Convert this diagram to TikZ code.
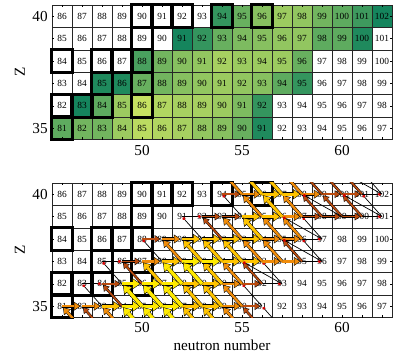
\documentclass[tikz,border=0pt]{standalone}
\usepackage{fontspec}
\setmainfont{Liberation Serif}
\usetikzlibrary{arrows.meta}
\definecolor{abulo}{RGB}{208,230,98}
\definecolor{abuhi}{RGB}{0,122,92}
\definecolor{fyel}{RGB}{255,234,0}
\definecolor{fyor}{RGB}{255,196,0}
\definecolor{forg}{RGB}{240,140,10}
\definecolor{fbrn}{RGB}{185,75,15}
\tikzset{
  cell/.style    = {draw=black!85, line width=0.35pt, minimum width=6mm, minimum height=6.72mm,
                    inner sep=0pt, font=\fontsize{8}{8}\selectfont},
  stable/.style  = {draw, line width=2.3pt},            % stable isotopes
  tick/.style    = {line width=0.4pt},
  ticklab/.style = {font=\fontsize{13}{13}\selectfont},
  % flow arrows, 1 = strongest
  back1/.style   = {black, line width=3.7pt, -{Triangle[length=7.2pt, width=9.8pt, line width=0pt]}, shorten >=1.2pt},
  front1/.style  = {fyel,  line width=2.9pt, -{Triangle[length=5.8pt, width=8pt, line width=0pt]}, shorten >=2pt},
  back2/.style   = {black, line width=3.3pt, -{Triangle[length=6.6pt, width=9pt, line width=0pt]}, shorten >=1.2pt},
  front2/.style  = {fyor,  line width=2.5pt, -{Triangle[length=5.2pt, width=7.2pt, line width=0pt]}, shorten >=2pt},
  back3/.style   = {black, line width=2.8pt, -{Triangle[length=5.8pt, width=7.8pt, line width=0pt]}, shorten >=1.2pt},
  front3/.style  = {forg,  line width=2.0pt, -{Triangle[length=4.6pt, width=6.2pt, line width=0pt]}, shorten >=2pt},
  back4/.style   = {black, line width=2.2pt, -{Triangle[length=5pt, width=6.6pt, line width=0pt]}, shorten >=1.2pt},
  front4/.style  = {fbrn,  line width=1.4pt, -{Triangle[length=3.9pt, width=5pt, line width=0pt]}, shorten >=2pt},
  back5/.style   = {draw=none},
  front5/.style  = {black, line width=0.6pt, -{Circle[length=2.6pt, color=red!85!black]}, shorten >=1pt},
}
\newcommand{\flow}[3]{\draw[back#1] (#2) -- (#3); \draw[front#1] (#2) -- (#3);}

\begin{document}
\begin{tikzpicture}[x=1cm, y=1cm]
  \useasboundingbox (0,0) rectangle (11.79,10.86);

  % upper panel: abundances
  \begin{scope}[x=6mm, y=6.72mm, shift={(1.86cm,7.014cm)}]
    \foreach \z/\n/\p in {35/46/55, 35/47/45, 35/48/45, 35/49/25, 35/50/10, 35/51/15, 35/52/20, 35/53/30,
                          35/54/35, 35/55/50, 35/56/85,
                          36/47/90, 36/48/55, 36/49/25, 36/50/5, 36/51/15, 36/52/20, 36/53/20, 36/54/25,
                          36/55/40, 36/56/75,
                          37/48/85, 37/49/85, 37/50/50, 37/51/45, 37/52/35, 37/53/30, 37/54/25, 37/55/30,
                          37/56/35, 37/57/55, 37/58/75,
                          38/50/65, 38/51/45, 38/52/35, 38/53/30, 38/54/20, 38/55/25, 38/56/25, 38/57/25,
                          38/58/50,
                          39/52/90, 39/53/75, 39/54/50, 39/55/40, 39/56/35, 39/57/30, 39/58/30, 39/59/55,
                          39/60/55, 39/61/85,
                          40/54/75, 40/55/50, 40/56/35, 40/57/25, 40/58/30, 40/59/45, 40/60/55, 40/61/70,
                          40/62/90}
      \fill[abuhi!\p!abulo] (\n-46.5,\z-35.5) rectangle ++(1,1);
    \foreach \z in {35,...,40}
      \foreach \n in {46,...,62} {
        \pgfmathtruncatemacro{\a}{\n+\z}
        \node[cell] (t\n-\z) at (\n-46,\z-35) {\a};
      }
    \foreach \z/\n in {35/46, 36/46, 36/47, 36/48, 36/50, 37/48, 37/50, 38/46, 38/48, 38/49, 38/50,
                       39/50, 40/50, 40/51, 40/52, 40/54, 40/56}
      \draw[stable] (t\n-\z.south west) rectangle (t\n-\z.north east);
    \foreach \z in {35,...,40} {
      \draw[tick] (t46-\z.west) -- ++(0.07cm,0cm);
      \draw[tick] (t62-\z.east) -- ++(-0.07cm,0cm);
    }
    \foreach \n in {46,...,62} {
      \draw[tick] (t\n-35.south) -- ++(0cm,0.07cm);
      \draw[tick] (t\n-40.north) -- ++(0cm,-0.07cm);
    }
  \end{scope}
  \node[ticklab] (z40a) at (1.2,10.374) {40};
  \node[ticklab] (z35a) at (1.2,7.014)  {35};
  \node[ticklab, rotate=90] (zlaba) at (0.6,8.7) {Z};
  \node[ticklab] (n50a) at (4.26,6.34)  {50};
  \node[ticklab] (n55a) at (7.26,6.34)  {55};
  \node[ticklab] (n60a) at (10.26,6.34) {60};

  % lower panel: flows
  \begin{scope}[x=6mm, y=6.72mm, shift={(1.86cm,1.674cm)}]
    \foreach \z in {35,...,40}
      \foreach \n in {46,...,62} {
        \pgfmathtruncatemacro{\a}{\n+\z}
        \node[cell] (b\n-\z) at (\n-46,\z-35) {\a};
      }
    \foreach \n in {46,...,62} {
      \coordinate (b\n-34) at (\n-46,-1);
      \coordinate (b\n-41) at (\n-46,6);
    }
    \foreach \z/\n in {35/46, 36/46, 36/47, 36/48, 36/50, 37/48, 37/50, 38/46, 38/48, 38/49, 38/50,
                       39/50, 40/50, 40/51, 40/52, 40/54, 40/56}
      \draw[stable] (b\n-\z.south west) rectangle (b\n-\z.north east);
    \foreach \z in {35,...,40} {
      \draw[tick] (b46-\z.west) -- ++(0.07cm,0cm);
      \draw[tick] (b62-\z.east) -- ++(-0.07cm,0cm);
    }
    \foreach \n in {46,...,62} {
      \draw[tick] (b\n-35.south) -- ++(0cm,0.07cm);
      \draw[tick] (b\n-40.north) -- ++(0cm,-0.07cm);
    }

    \begin{scope}
      \clip (b46-35.south west) rectangle (b62-40.north east);
      \foreach \lv in {5,4,3,2,1} {
        % neutron captures, Z/N/level
        \foreach \z/\n/\lvl in {35/46/3, 35/47/3, 35/48/2, 35/49/1, 35/50/1, 35/51/1, 35/52/2, 35/53/2, 35/54/3, 35/55/4,
                                36/47/5, 36/48/4, 36/49/1, 36/50/1, 36/51/1, 36/52/2, 36/53/2, 36/54/3, 36/55/4, 36/56/5,
                                37/48/5, 37/49/4, 37/50/3, 37/51/2, 37/52/1, 37/53/1, 37/54/2, 37/55/2, 37/56/3, 37/57/3, 37/58/5,
                                38/50/4, 38/51/3, 38/52/2, 38/53/2, 38/54/2, 38/55/2, 38/56/3, 38/57/3, 38/58/5,
                                39/52/5, 39/53/4, 39/54/4, 39/55/2, 39/56/2, 39/57/3, 39/58/4, 39/59/4, 39/60/4, 39/61/5,
                                40/54/4, 40/55/3, 40/56/2, 40/57/2, 40/58/3, 40/59/4, 40/60/4, 40/61/5} {
          \ifnum\lvl=\lv
            \pgfmathtruncatemacro{\nn}{\n+1}
            \flow{\lvl}{b\n-\z.center}{b\nn-\z.center}
          \fi
        }
        % beta decays, Z/N/level
        \foreach \z/\n/\lvl in {34/47/3, 34/48/4, 34/49/3, 34/50/1, 34/51/1, 34/52/1, 34/53/2, 34/54/2, 34/55/3, 34/56/4, 34/57/5,
                                35/48/5, 35/49/4, 35/50/1, 35/51/1, 35/52/1, 35/53/2, 35/54/2, 35/55/3, 35/56/5,
                                36/49/5, 36/50/4, 36/51/2, 36/52/1, 36/53/1, 36/54/2, 36/55/3, 36/56/4, 36/57/5,
                                37/51/5, 37/52/3, 37/53/2, 37/54/2, 37/55/2, 37/56/3, 37/57/3, 37/58/4, 37/59/5,
                                38/53/5, 38/54/4, 38/55/3, 38/56/2, 38/57/3, 38/58/3, 38/59/5,
                                39/55/5, 39/56/3, 39/57/2, 39/58/3, 39/59/4, 39/60/4, 39/61/4, 39/62/5,
                                40/55/3, 40/56/2, 40/57/2, 40/58/3, 40/59/4, 40/60/4, 40/61/4, 40/62/5} {
          \ifnum\lvl=\lv
            \pgfmathtruncatemacro{\nn}{\n-1}
            \pgfmathtruncatemacro{\zz}{\z+1}
            \flow{\lvl}{b\n-\z.center}{b\nn-\zz.center}
          \fi
        }
      }
      % beta-delayed neutron emission
      \foreach \z/\n in {36/57, 37/59, 38/59, 39/60, 39/62, 40/62} {
        \pgfmathtruncatemacro{\nn}{\n-2}
        \pgfmathtruncatemacro{\zz}{\z+1}
        \flow{5}{b\n-\z.center}{b\nn-\zz.center}
      }
    \end{scope}
  \end{scope}
  \node[ticklab] (z40b) at (1.2,5.034) {40};
  \node[ticklab] (z35b) at (1.2,1.674) {35};
  \node[ticklab, rotate=90] (zlabb) at (0.6,3.36) {Z};
  \node[ticklab] (n50b) at (4.26,1.02)  {50};
  \node[ticklab] (n55b) at (7.26,1.02)  {55};
  \node[ticklab] (n60b) at (10.26,1.02) {60};
  \node[ticklab] (nlab) at (6.66,0.49)  {neutron number};
\end{tikzpicture}
\end{document}
